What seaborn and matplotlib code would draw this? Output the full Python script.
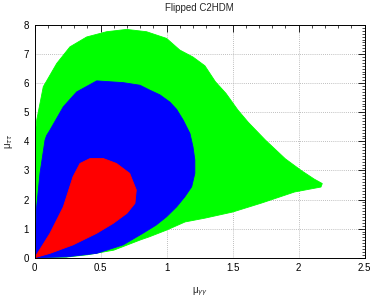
import numpy as np
import matplotlib
matplotlib.use("Agg")
import matplotlib.pyplot as plt
import seaborn as sns
from matplotlib.ticker import MultipleLocator

# Region boundaries (mu_gamgam, mu_tautau)
green_x = [0.0, 0.0, 0.015, 0.065, 0.167, 0.267, 0.394, 0.545, 0.697, 0.848, 1.0, 1.10,
           1.2, 1.29, 1.37, 1.45, 1.54, 1.62, 1.75, 1.9, 2.02, 2.12, 2.18, 2.17,
           1.97, 1.72, 1.5, 1.29, 1.14, 1.0, 0.87, 0.8, 0.6, 0.4, 0.24, 0.0]
green_y = [0.0, 4.04, 4.73, 5.88, 6.68, 7.25, 7.59, 7.77, 7.85, 7.77, 7.54, 7.14,
           6.9, 6.6, 6.05, 5.65, 5.08, 4.65, 4.04, 3.4, 3.0, 2.7, 2.55, 2.43,
           2.26, 1.88, 1.57, 1.36, 1.23, 0.95, 0.72, 0.61, 0.26, 0.1, 0.02, 0.0]

blue_x = [0.0, 0.015, 0.04, 0.078, 0.09, 0.116, 0.217, 0.318, 0.47, 0.67, 0.798, 0.873,
          0.949, 1.025, 1.076, 1.126, 1.177, 1.20, 1.214, 1.214, 1.19, 1.139, 1.076, 1.0,
          0.92, 0.82, 0.67, 0.47, 0.24, 0.0]
blue_y = [0.0, 1.75, 2.9, 4.04, 4.2, 4.39, 5.19, 5.70, 6.08, 6.02, 5.93, 5.76,
          5.6, 5.35, 5.1, 4.73, 4.27, 3.81, 3.36, 2.90, 2.44, 2.10, 1.75, 1.41,
          1.12, 0.84, 0.44, 0.15, 0.03, 0.0]

red_x = [0.0, 0.116, 0.217, 0.29, 0.343, 0.419, 0.52, 0.62, 0.72, 0.77, 0.76, 0.70,
         0.595, 0.47, 0.29, 0.116, 0.0]
red_y = [0.0, 0.84, 1.75, 2.78, 3.24, 3.41, 3.41, 3.24, 2.9, 2.33, 1.87, 1.53,
         1.18, 0.84, 0.44, 0.15, 0.0]

x_ticks = [0, 0.5, 1, 1.5, 2, 2.5]
x_tick_labels = ["0", "0.5", "1", "1.5", "2", "2.5"]
y_ticks = [0, 1, 2, 3, 4, 5, 6, 7, 8]

sns.set_style("white")
plt.rcParams["font.family"] = ["Liberation Sans", "DejaVu Sans"]

fig = plt.figure(figsize=(3.74, 2.98), dpi=100)
ax = fig.add_axes([0.0928, 0.1352, 0.8818, 0.7808])

for xs, ys, col in [(green_x, green_y, "#00ff00"), (blue_x, blue_y, "#0000ff"), (red_x, red_y, "#ff0000")]:
    ax.fill(xs, ys, color=col, lw=0.6, edgecolor=col, zorder=2)

ax.set_xlim(0, 2.5)
ax.set_ylim(0, 8)
ax.set_xticks(x_ticks)
ax.set_xticklabels(x_tick_labels)
ax.set_yticks(y_ticks)
ax.xaxis.set_minor_locator(MultipleLocator(0.1))
ax.yaxis.set_minor_locator(MultipleLocator(0.1))
ax.tick_params(which="both", direction="in", top=True, right=True, colors="black",
               labelsize=7, pad=4)
ax.tick_params(which="major", length=5, width=0.6)
ax.tick_params(which="minor", length=2.5, width=0.5)
ax.grid(True, which="major", color="#aaaaaa", linestyle=(0, (1, 1.5)), linewidth=0.6, zorder=1)
ax.set_axisbelow(True)
for s in ax.spines.values():
    s.set_color("black")
    s.set_linewidth(0.7)
    s.set_zorder(5)

ax.set_title("Flipped C2HDM", fontsize=7, pad=10)
ax.set_xlabel("\u03bc$_{\u03b3\u03b3}$", fontsize=7)
ax.set_ylabel("\u03bc$_{\u03c4\u03c4}$", fontsize=7)
ax.xaxis.set_label_coords(0.5, -0.12)
ax.yaxis.set_label_coords(-0.06, 0.5)

fig.savefig("out.png", dpi=100)
